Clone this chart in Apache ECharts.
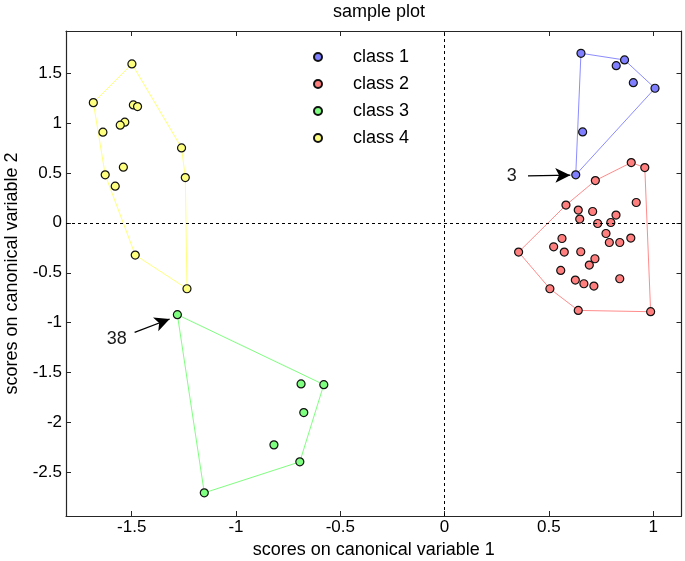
<!DOCTYPE html>
<html>
<head>
<meta charset="utf-8">
<script src="https://cdn.jsdelivr.net/npm/echarts@6.0.0/dist/echarts.min.js"></script>
<style>html,body{margin:0;padding:0;background:#fff}#chart{width:685px;height:561px}</style>
</head>
<body>
<div id="chart"></div>
<script>
const xTicks = [-1.5, -1, -0.5, 0, 0.5, 1];
const yTicks = [-2.5, -2, -1.5, -1, -0.5, 0, 0.5, 1, 1.5];
const classNames = ['class 1', 'class 2', 'class 3', 'class 4'];

const class1 = [[0.654,1.697],[0.863,1.63],[0.823,1.573],[0.905,1.403],[1.009,1.347],[0.662,0.91],[0.629,0.48]];
const class2 = [[0.895,0.603],[0.960,0.553],[0.723,0.423],[0.919,0.203],[0.582,0.177],[0.641,0.127],
  [0.710,0.113],[0.822,0.077],[0.648,0.037],[0.734,-0.007],[0.797,0.003],[0.774,-0.107],[0.563,-0.157],
  [0.893,-0.153],[0.790,-0.197],[0.840,-0.197],[0.523,-0.24],[0.355,-0.293],[0.574,-0.293],[0.653,-0.29],
  [0.721,-0.36],[0.694,-0.423],[0.557,-0.477],[0.840,-0.56],[0.627,-0.573],[0.668,-0.61],[0.716,-0.633],
  [0.505,-0.66],[0.641,-0.877],[0.988,-0.89]];
const class3 = [[-1.281,-0.92],[-0.579,-1.62],[-0.688,-1.613],[-0.675,-1.90],[-0.818,-2.223],[-0.694,-2.393],[-1.152,-2.703]];
const class4 = [[-1.499,1.59],[-1.684,1.203],[-1.492,1.18],[-1.472,1.163],[-1.533,1.007],[-1.555,0.977],
  [-1.638,0.907],[-1.261,0.75],[-1.540,0.557],[-1.243,0.453],[-1.627,0.48],[-1.579,0.367],[-1.483,-0.323],[-1.235,-0.66]];

// annotations: label text, label anchor, arrow start, arrow tip (data units)
const noteLabels = ['3', '38'];
const noteTextPos = [[0.31, 0.465], [-1.56, -1.16]];
const noteFrom = [[0.40, 0.47], [-1.486, -1.097]];
const noteTo = [[0.603, 0.477], [-1.318, -0.963]];

const fills = ['#7f7fff', '#ff7f7f', '#7fff7f', '#ffff7f'];
const lineCols = ['#8c8cff', '#ff8c8c', '#80ff80', '#ffff80'];
const FONT = "'Liberation Sans', Arial, sans-serif";

function hull(pts) {
  const p = pts.slice().sort((a, b) => a[0] - b[0] || a[1] - b[1]);
  const cross = (o, a, b) => (a[0]-o[0])*(b[1]-o[1]) - (a[1]-o[1])*(b[0]-o[0]);
  const lower = [], upper = [];
  for (const q of p) { while (lower.length >= 2 && cross(lower[lower.length-2], lower[lower.length-1], q) <= 0) lower.pop(); lower.push(q); }
  for (let i = p.length - 1; i >= 0; i--) { const q = p[i]; while (upper.length >= 2 && cross(upper[upper.length-2], upper[upper.length-1], q) <= 0) upper.pop(); upper.push(q); }
  upper.pop(); lower.pop();
  const h = lower.concat(upper); h.push(h[0]); return h;
}

const classes = [class1, class2, class3, class4];
const XMIN = -1.815, XMAX = 1.136, YMIN = -2.935, YMAX = 1.92;

const series = [];
classes.forEach((c, i) => {
  series.push({ type: 'line', name: classNames[i] + ' hull', data: hull(c), showSymbol: false, silent: true,
    lineStyle: { color: lineCols[i], width: 1 }, z: 2 });
});
series.push({ type: 'line', name: 'zero', data: [], silent: true,
  markLine: { silent: true, symbol: ['none', 'none'], label: { show: false },
    lineStyle: { color: '#000', type: [3, 3], width: 1 },
    data: [{ xAxis: 0 }, { yAxis: 0 }] }, z: 1 });
classes.forEach((c, i) => {
  series.push({ type: 'scatter', name: classNames[i], data: c, symbol: 'circle', symbolSize: 8,
    itemStyle: { color: fills[i], borderColor: '#111', borderWidth: 1.2, opacity: 1 }, z: 3 });
});
series.push({ type: 'scatter', name: 'notes', silent: true, symbolSize: 1,
  itemStyle: { color: 'rgba(0,0,0,0)' },
  data: noteLabels.map((t, i) => ({ value: noteTextPos[i], name: t })),
  label: { show: true, position: 'left', distance: -8, formatter: '{b}', color: '#1a1a1a', opacity: 1,
    textBorderWidth: 0, fontSize: 18, fontFamily: FONT },
  markLine: { silent: true, symbol: ['none', 'arrow'], symbolSize: [11, 15], label: { show: false },
    lineStyle: { color: '#000', type: 'solid', width: 1.3 },
    data: noteFrom.map((f, i) => [{ coord: f }, { coord: noteTo[i] }]) }, z: 4 });

const axisCommon = {
  type: 'value', splitLine: { show: false },
  axisLine: { show: true, onZero: false, lineStyle: { color: '#262626', width: 1.2 } },
};

const option = {
  animation: false,
  backgroundColor: '#fff',
  title: { text: 'sample plot', left: 374, top: -2, textAlign: 'center',
    textStyle: { fontFamily: FONT, fontSize: 18, fontWeight: 'normal', color: '#000' } },
  grid: { left: 66, right: 3.5, top: 31, bottom: 45, outerBoundsMode: 'none', containLabel: false },
  legend: { data: classNames, orient: 'vertical', left: 313, top: 48, padding: 0,
    itemWidth: 8, itemHeight: 8, itemGap: 9, icon: 'circle',
    textStyle: { fontFamily: FONT, fontSize: 18, color: '#000', lineHeight: 17, padding: [0, 0, 0, 26] } },
  xAxis: [
    Object.assign({}, axisCommon, { position: 'bottom', min: XMIN, max: XMAX,
      name: 'scores on canonical variable 1', nameLocation: 'middle', nameGap: 25,
      nameTextStyle: { fontFamily: FONT, fontSize: 18, color: '#000' },
      axisTick: { show: true, inside: true, length: 5, customValues: xTicks, lineStyle: { color: '#262626' } },
      axisLabel: { show: true, margin: 3, customValues: xTicks, fontFamily: FONT, fontSize: 17, color: '#000' } }),
    Object.assign({}, axisCommon, { position: 'top', min: XMIN, max: XMAX,
      axisTick: { show: true, inside: true, length: 5, customValues: xTicks, lineStyle: { color: '#262626' } },
      axisLabel: { show: false } })
  ],
  yAxis: [
    Object.assign({}, axisCommon, { position: 'left', min: YMIN, max: YMAX,
      name: 'scores on canonical variable 2', nameLocation: 'middle', nameGap: 45,
      nameTextStyle: { fontFamily: FONT, fontSize: 18, color: '#000' },
      axisTick: { show: true, inside: true, length: 5, customValues: yTicks, lineStyle: { color: '#262626' } },
      axisLabel: { show: true, margin: 4, customValues: yTicks, fontFamily: FONT, fontSize: 17, color: '#000' } }),
    Object.assign({}, axisCommon, { position: 'right', min: YMIN, max: YMAX,
      axisTick: { show: true, inside: true, length: 5, customValues: yTicks, lineStyle: { color: '#262626' } },
      axisLabel: { show: false } })
  ],
  series: series
};

const chart = echarts.init(document.getElementById('chart'), null, { renderer: 'canvas' });
chart.setOption(option);
</script>
</body>
</html>
